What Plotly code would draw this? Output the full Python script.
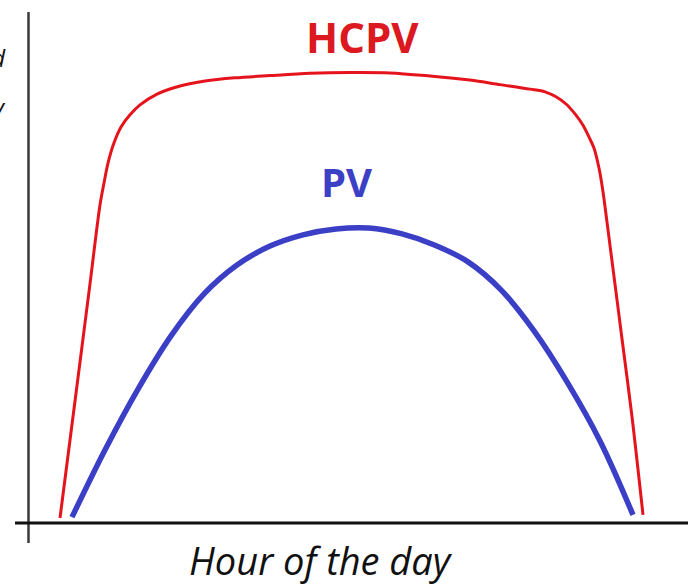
import plotly.graph_objects as go

# Hour of the day (x) and relative power (y, 1 = HCPV plateau)
hcpv_hours = [6.000, 6.206, 6.412, 6.617, 6.823, 6.906, 6.988, 7.112, 7.256, 7.441, 7.647,
              7.997, 8.470, 8.985, 9.602, 10.323, 11.146, 11.969, 12.792, 13.616, 14.439,
              15.057, 15.674, 15.983, 16.209, 16.415, 16.600, 16.765, 16.909, 16.992,
              17.094, 17.177, 17.259, 17.362, 17.568, 17.774, 18.000]
hcpv_power = [0.011, 0.184, 0.357, 0.530, 0.705, 0.754, 0.798, 0.843, 0.878, 0.905, 0.927,
              0.951, 0.969, 0.980, 0.987, 0.992, 0.997, 0.999, 0.998, 0.991, 0.982,
              0.972, 0.962, 0.956, 0.945, 0.929, 0.907, 0.882, 0.851, 0.831,
              0.787, 0.734, 0.667, 0.581, 0.408, 0.235, 0.018]

pv_hours = [6.247, 6.926, 7.606, 8.285, 8.964, 9.643, 10.323, 11.002, 11.681, 12.360,
            13.040, 13.719, 14.398, 15.077, 15.757, 16.436, 17.115, 17.794]
pv_power = [0.013, 0.162, 0.297, 0.415, 0.508, 0.572, 0.614, 0.639, 0.652, 0.654,
            0.641, 0.616, 0.579, 0.517, 0.426, 0.313, 0.182, 0.018]

series_labels = ["HCPV", "PV"]
x_title = "Hour of the day"
y_title_lines = ["Yield", "per day"]

W, H = 688, 587
fig = go.Figure()
fig.add_trace(go.Scatter(x=hcpv_hours, y=hcpv_power, mode="lines",
                         line=dict(color="#e5141c", width=3, shape="spline", smoothing=0.9),
                         hoverinfo="skip", showlegend=False))
fig.add_trace(go.Scatter(x=pv_hours, y=pv_power, mode="lines",
                         line=dict(color="#3a3fc6", width=5.5, shape="spline", smoothing=1.0),
                         hoverinfo="skip", showlegend=False))


def px(xp):
    return xp / W


def py(yp):
    return 1 - yp / H


fig.update_layout(
    width=W, height=H,
    margin=dict(l=0, r=0, t=0, b=0),
    paper_bgcolor="white", plot_bgcolor="white",
    xaxis=dict(range=[4.765, 18.926], visible=False, fixedrange=True),
    yaxis=dict(range=[-0.1419, 1.1596], visible=False, fixedrange=True),
    shapes=[
        dict(type="line", xref="paper", yref="paper", x0=px(28.5), x1=px(28.5), y0=py(543), y1=py(12),
             line=dict(color="#3a3a3a", width=2.5)),
        dict(type="line", xref="paper", yref="y", x0=px(15), x1=1, y0=0, y1=0,
             line=dict(color="#111111", width=3)),
    ],
    annotations=[
        dict(text="<b>" + series_labels[0] + "</b>", xref="paper", yref="paper", x=px(362), y=py(36),
             showarrow=False, font=dict(family="Open Sans", size=42, color="#dc1820"),
             xanchor="center", yanchor="middle"),
        dict(text="<b>" + series_labels[1] + "</b>", xref="paper", yref="paper", x=px(346), y=py(181),
             showarrow=False, font=dict(family="Open Sans", size=40, color="#3b40c4"),
             xanchor="center", yanchor="middle"),
        dict(text="<i>" + x_title + "</i>", xref="paper", yref="paper", x=px(321), y=py(560),
             showarrow=False, font=dict(family="Open Sans", size=38, color="#111111"),
             xanchor="center", yanchor="middle"),
        dict(text="<i>" + y_title_lines[0] + "</i>", xref="paper", yref="paper", x=px(8), y=py(58),
             showarrow=False, font=dict(family="Open Sans", size=24, color="#111111"),
             xanchor="right", yanchor="middle"),
        dict(text="<i>" + y_title_lines[1] + "</i>", xref="paper", yref="paper", x=px(8), y=py(106),
             showarrow=False, font=dict(family="Open Sans", size=24, color="#111111"),
             xanchor="right", yanchor="middle"),
    ],
)

fig.write_html("out.html", config={"displayModeBar": False, "staticPlot": True},
               post_script="document.body.style.margin='0';document.body.style.overflow='hidden';")
